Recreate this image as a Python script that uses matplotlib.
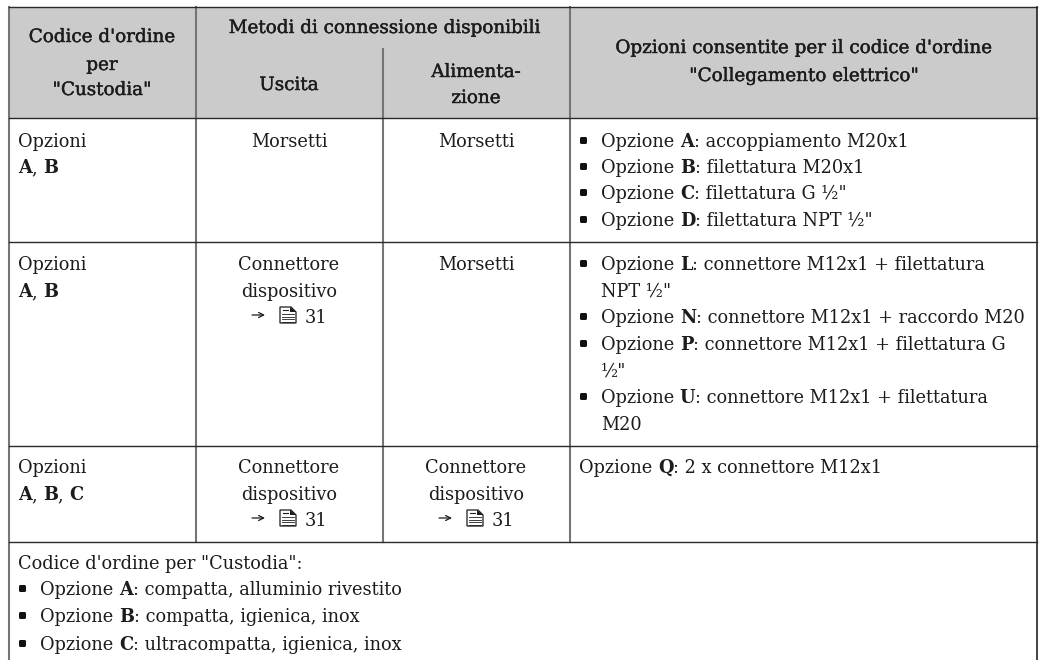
"""Ordering-code table, drawn with plain lines and text in pixel coords."""
import matplotlib

matplotlib.use("Agg")
import matplotlib.patheffects as pe  # noqa: E402
import matplotlib.pyplot as plt  # noqa: E402
from matplotlib.patches import Rectangle, Polygon, FancyBboxPatch  # noqa: E402

C_HEAD, C_LINE, C_DARK, C_TEXT = "#cbcbcb", "#757575", "#2a2a2a", "#1c1c1c"
FONT = "DejaVu Serif"
FS_HEAD, FS_BODY = 13.2, 12.8

# (text, centre x, baseline y)
header_cells = [
    ("Codice d'ordine", 102, 42), ("per", 102, 70), ('"Custodia"', 102, 95),
    ("Metodi di connessione disponibili", 385, 33),
    ("Uscita", 289, 90),
    ("Alimenta-", 476, 77), ("zione", 476, 103),
    ("Opzioni consentite per il codice d'ordine", 804, 53),
    ('"Collegamento elettrico"', 804, 81),
]
centre_cells = [
    ("Morsetti", 289, 147), ("Morsetti", 476, 147),
    ("Connettore", 289, 270), ("dispositivo", 289, 297), ("Morsetti", 476, 270),
    ("Connettore", 289, 473), ("dispositivo", 289, 500),
    ("Connettore", 476, 473), ("dispositivo", 476, 500),
]
page_refs = [(289, 323), (289, 526), (476, 526)]
left_cells = [
    ("Opzioni", 147), ("Opzioni", 270), ("Opzioni", 473),
]
option_codes = [
    (["A", "B"], 173), (["A", "B"], 297), (["A", "B", "C"], 500),
]
right_rows = [
    (True, "Opzione ", "A", ": accoppiamento M20x1", 147),
    (True, "Opzione ", "B", ": filettatura M20x1", 173),
    (True, "Opzione ", "C", ': filettatura G ½"', 199),
    (True, "Opzione ", "D", ': filettatura NPT ½"', 226),
    (True, "Opzione ", "L", ": connettore M12x1 + filettatura", 270),
    (None, 'NPT ½"', "", "", 297),
    (True, "Opzione ", "N", ": connettore M12x1 + raccordo M20", 323),
    (True, "Opzione ", "P", ": connettore M12x1 + filettatura G", 350),
    (None, '½"', "", "", 377),
    (True, "Opzione ", "U", ": connettore M12x1 + filettatura", 403),
    (None, "M20", "", "", 430),
    (False, "Opzione ", "Q", ": 2 x connettore M12x1", 473),
]
footer_rows = [
    (False, 'Codice d\'ordine per "Custodia":', "", "", 569),
    (True, "Opzione ", "A", ": compatta, alluminio rivestito", 595),
    (True, "Opzione ", "B", ": compatta, igienica, inox", 622),
    (True, "Opzione ", "C", ": ultracompatta, igienica, inox", 650),
]
col_x = [9, 196, 383, 570, 1037]
row_y = [6.5, 118, 242, 446, 541.5]


def put(ax, x, y, s, weight="normal", ha="left", fs=FS_BODY, stroke=0):
    t = ax.text(x, y, s, family=FONT, fontsize=fs, weight=weight, ha=ha, va="baseline", color=C_TEXT)
    if stroke:
        t.set_path_effects([pe.withStroke(linewidth=stroke, foreground=C_TEXT)])
    bb = t.get_window_extent(ax.figure.canvas.get_renderer())
    return x + bb.width


def rich(ax, x, row):
    bullet, a, b, c, y = row
    if bullet:
        ax.add_patch(FancyBboxPatch((x + 2, y - 9), 5, 5, boxstyle="round,pad=1,rounding_size=1.5",
                                    fc="#111111", ec="none", lw=0))
    if bullet or bullet is None:
        x += 22
    x = put(ax, x, y, a)
    if b:
        x = put(ax, x, y, b, weight="bold")
    if c:
        put(ax, x, y, c)


def page_ref(ax, cx, y):
    ax.annotate("", xy=(cx - 24, y - 8), xytext=(cx - 37, y - 8),
                arrowprops=dict(arrowstyle="->", color=C_TEXT, lw=0.9, mutation_scale=9, shrinkA=0, shrinkB=0))
    x0 = cx - 9
    ax.add_patch(Polygon([(x0, y - 16), (x0 + 11, y - 16), (x0 + 16, y - 11), (x0 + 16, y), (x0, y)],
                         closed=True, fill=False, ec=C_TEXT, lw=0.9))
    ax.add_patch(Polygon([(x0 + 10, y - 16), (x0 + 16, y - 11), (x0 + 10, y - 11)], closed=True, color=C_TEXT, lw=0))
    ax.plot([x0 + 3, x0 + 8], [y - 13, y - 13], color=C_TEXT, lw=0.8)
    for dy in (-9, -6.5, -4, -1.5):
        ax.plot([x0 + 2, x0 + 14], [y + dy, y + dy], color=C_TEXT, lw=0.6)
    put(ax, cx + 16, y, "31")


fig = plt.figure(figsize=(10.44, 6.6), dpi=100)
ax = fig.add_axes([0, 0, 1, 1])
ax.set_xlim(0, 1044); ax.set_ylim(660, 0); ax.axis("off")

ax.add_patch(Rectangle((col_x[0], row_y[0]), col_x[-1] - col_x[0], row_y[1] - row_y[0], color=C_HEAD, lw=0))
for x in (col_x[1], col_x[3]):
    ax.plot([x, x], [row_y[0], row_y[-1]], color=C_LINE, lw=1.5)
ax.plot([col_x[2]] * 2, [49, row_y[-1]], color=C_LINE, lw=1.5)
ax.plot([col_x[0]] * 2, [row_y[0], 660], color=C_LINE, lw=1.5)
ax.plot([col_x[-1]] * 2, [row_y[0], 660], color="#111111", lw=1.1)
for y in row_y:
    ax.plot([col_x[0], col_x[-1]], [y, y], color=C_DARK, lw=1.0)

for s, x, y in header_cells:
    put(ax, x, y, s, ha="center", fs=FS_HEAD, stroke=0.3)
for s, x, y in centre_cells:
    put(ax, x, y, s, ha="center")
for cx, y in page_refs:
    page_ref(ax, cx, y)
for s, y in left_cells:
    put(ax, 18, y, s)
for codes, y in option_codes:
    x = 18
    for i, c in enumerate(codes):
        x = put(ax, x, y, c, weight="bold")
        if i < len(codes) - 1:
            x = put(ax, x, y, ", ")
for row in right_rows:
    rich(ax, 579, row)
for row in footer_rows:
    rich(ax, 18, row)

fig.savefig("out.png", dpi=100)
